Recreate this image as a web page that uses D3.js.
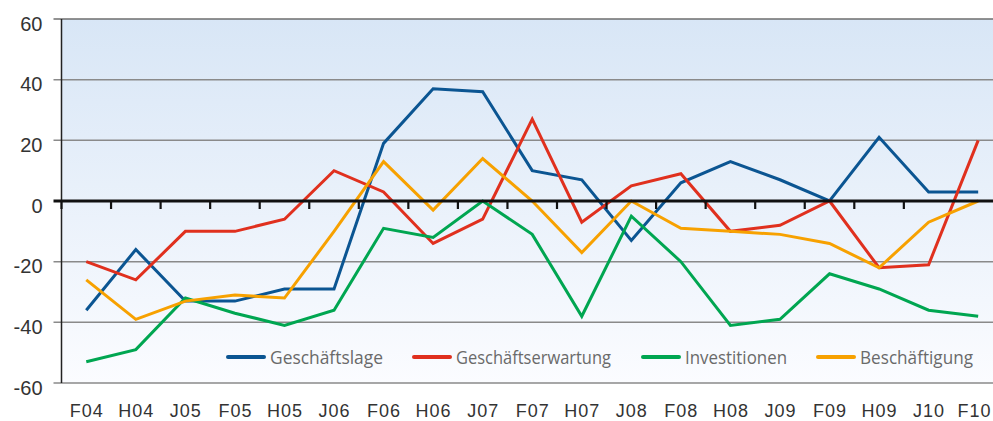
<!DOCTYPE html>
<html>
<head>
<meta charset="utf-8">
<script src="https://cdn.jsdelivr.net/npm/d3@7/dist/d3.min.js"></script>
<style>
  html, body { margin: 0; padding: 0; background: #ffffff; }
  svg { display: block; }
</style>
</head>
<body>
<svg id="chart" width="993" height="421"></svg>
<script>
// ---- data ----
const categories = ["F04","H04","J05","F05","H05","J06","F06","H06","J07","F07","H07","J08","F08","H08","J09","F09","H09","J10","F10"];
const geschaeftslage      = [-36,-16,-33,-33,-29,-29, 19, 37, 36, 10,  7,-13,  6, 13,  7,  0, 21,  3,  3];
const geschaeftserwartung = [-20,-26,-10,-10,-6, 10,  3,-14, -6, 27, -7,  5,  9,-10, -8,  0,-22,-21, 20];
const investitionen       = [-53,-49,-32,-37,-41,-36, -9,-12,  0,-11,-38, -5,-20,-41,-39,-24,-29,-36,-38];
const beschaeftigung      = [-26,-39,-33,-31,-32,-10, 13, -3, 14,  0,-17,  0, -9,-10,-11,-14,-22, -7,  0];
const seriesNames  = ["Geschäftslage","Geschäftserwartung","Investitionen","Beschäftigung"];
const seriesValues = [geschaeftslage, geschaeftserwartung, investitionen, beschaeftigung];
const yTicks = [-60,-40,-20,0,20,40,60];

// ---- style ----
const colors = ["#0b5592","#e0301e","#00a651","#f7a100"];
const W = 993, H = 421;
const mLeft = 61.5, mTop = 19, mBottom = 383;
const step = 49.55;

const svg = d3.select("#chart");
const x = d3.scaleBand().domain(categories).range([mLeft, mLeft + step*categories.length]).paddingInner(0).paddingOuter(0);
const y = d3.scaleLinear().domain([-60, 60]).range([mBottom, mTop]);
const cx = c => x(c) + x.bandwidth()/2;

// background gradient
const defs = svg.append("defs");
const grad = defs.append("linearGradient").attr("id","bg").attr("x1",0).attr("y1",0).attr("x2",0).attr("y2",1);
grad.append("stop").attr("offset","0%").attr("stop-color","#d8e6f6");
grad.append("stop").attr("offset","100%").attr("stop-color","#fbfcff");
svg.append("rect").attr("x", mLeft).attr("y", mTop).attr("width", W - mLeft).attr("height", mBottom - mTop).attr("fill","url(#bg)");

// horizontal grid lines (with left tick stubs)
svg.append("g").selectAll("line").data(yTicks.filter(d => d !== 0)).join("line")
  .attr("x1", mLeft - 8).attr("x2", W)
  .attr("y1", d => y(d)).attr("y2", d => y(d))
  .attr("stroke", d => d === 60 ? "#6e6e6e" : "#8a8a8a").attr("stroke-width", 1.5);

// left axis line
svg.append("line").attr("x1", mLeft).attr("x2", mLeft).attr("y1", mTop).attr("y2", mBottom)
  .attr("stroke", "#222").attr("stroke-width", 1.5);

// y labels
const yAxis = d3.axisLeft(y).tickValues(yTicks).tickSize(0).tickPadding(0).tickFormat(d => d < 0 ? "-" + Math.abs(d) : d);
const ya = svg.append("g").attr("transform", `translate(${mLeft - 19},0)`).call(yAxis);
ya.select(".domain").remove();
ya.selectAll("text").attr("font-family","'Liberation Sans', Arial, sans-serif").attr("font-size", 20).attr("fill","#333").attr("dy","0.55em");

// series lines
const line = d3.line().x((d, i) => cx(categories[i])).y(d => y(d));
svg.append("g").selectAll("path").data(seriesValues).join("path")
  .attr("d", d => line(d)).attr("fill","none")
  .attr("stroke", (d, i) => colors[i]).attr("stroke-width", 3).attr("stroke-linejoin","miter");

// zero line with ticks at band boundaries
svg.append("line").attr("x1", mLeft - 8).attr("x2", W).attr("y1", y(0)).attr("y2", y(0))
  .attr("stroke", "#111").attr("stroke-width", 3.2);
svg.append("g").selectAll("line").data(categories.slice(0, 18)).join("line")
  .attr("x1", d => x(d)).attr("x2", d => x(d))
  .attr("y1", y(0)).attr("y2", y(0) + 8)
  .attr("stroke", "#111").attr("stroke-width", 2.2);

// x labels
const xAxis = d3.axisBottom(x).tickSize(0).tickPadding(0);
const xa = svg.append("g").attr("transform", `translate(0,${mBottom + 34})`).call(xAxis);
xa.select(".domain").remove();
xa.selectAll("text").attr("font-family","'Liberation Sans', Arial, sans-serif").attr("font-size", 18).attr("fill","#333")
  .attr("letter-spacing", "1px").attr("dx", "0.5px").attr("dy", 0);
// keep the last label inside the picture
xa.selectAll(".tick").filter(d => d === categories[categories.length - 1]).select("text")
  .attr("text-anchor", "end").attr("dx", 0).attr("x", W - 1.5 - cx(categories[categories.length - 1]));

// legend
const legendX = [228, 414, 643, 818];
const legendTextW = [113, 155, 102, 113];
const lg = svg.append("g").attr("transform", `translate(0,357)`);
const items = lg.selectAll("g").data(seriesNames).join("g").attr("transform", (d, i) => `translate(${legendX[i]},0)`);
items.append("line").attr("x1", 0).attr("x2", 36).attr("y1", 0).attr("y2", 0)
  .attr("stroke", (d, i) => colors[i]).attr("stroke-width", 4).attr("stroke-linecap","round");
items.append("text").attr("x", 42).attr("y", 0).attr("dy","0.36em")
  .attr("font-family","'Open Sans', sans-serif").attr("font-size", 19).attr("fill","#6a6a6a")
  .attr("textLength", (d, i) => legendTextW[i]).attr("lengthAdjust","spacingAndGlyphs")
  .text(d => d);
</script>
</body>
</html>
